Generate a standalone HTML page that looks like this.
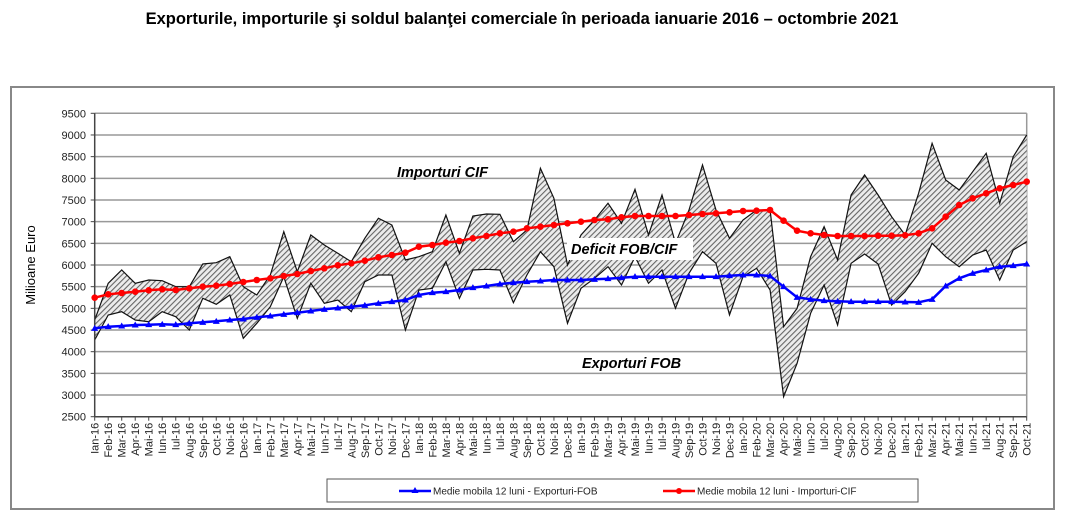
<!DOCTYPE html>
<html><head><meta charset="utf-8"><style>
body{margin:0;background:#fff;width:1068px;height:521px;overflow:hidden;font-family:"Liberation Sans",Arial,sans-serif}
</style></head><body>
<svg id="s" width="1068" height="521" xmlns="http://www.w3.org/2000/svg" font-family="Liberation Sans, Arial, sans-serif">
<defs>
<pattern id="h" patternUnits="userSpaceOnUse" width="4" height="4" patternTransform="rotate(45)">
<rect width="4" height="4" fill="#ececec"/><rect width="1.1" height="4" fill="#666"/>
</pattern>
</defs>
<text x="522" y="24" text-anchor="middle" font-weight="bold" font-size="16.5">Exporturile, importurile şi soldul balanţei comerciale în perioada ianuarie 2016 – octombrie 2021</text>
<rect x="11" y="87" width="1043" height="422" fill="#fff" stroke="#888" stroke-width="2"/>
<g id="g"></g>
</svg>
<script>
var g=document.getElementById('g');var ns='http://www.w3.org/2000/svg';
function el(t,a,txt){var e=document.createElementNS(ns,t);for(var k in a)e.setAttribute(k,a[k]);if(txt)e.textContent=txt;g.appendChild(e);return e;}
var L=94.7,R=1026.7,T=113.3,B=416.7,st=(R-L)/69;
function X(i){return L+i*st}
function Y(zy){return 110+zy/3}
function V(v){return B-(v-2500)*(B-T)/7000}
for(var v=2500;v<=9500;v+=500){var y=V(v);el('line',{x1:L,x2:R,y1:y,y2:y,stroke:'#999','stroke-width':1.5});
el('line',{x1:L-4,x2:L,y1:y,y2:y,stroke:'#444'});
el('text',{x:86,y:y+4,'text-anchor':'end','font-size':11,fill:'#222'},v);}
el('line',{x1:R,x2:R,y1:T,y2:B,stroke:'#999','stroke-width':1.5});
var imp=[630,520,480,520,510,512,530,530,462,458,440,530,555,495,365,485,375,405,430,455,385,325,345,450,
440,425,315,430,318,312,313,395,360,175,265,465,375,330,280,340,238,375,255,400,300,165,
300,385,330,300,300,650,595,440,350,450,255,195,255,320,375,250,100,210,240,185,130,280,140,75];
var exp=[690,615,605,630,635,605,620,660,565,583,555,685,640,590,500,625,520,580,570,605,515,495,495,660,
540,535,455,565,480,478,480,578,495,425,470,640,535,505,470,525,440,520,480,595,490,425,
460,615,500,475,540,860,760,610,525,645,460,432,462,585,545,490,400,440,470,435,420,510,420,395];
var red=[563,553,549,545,541,538,540,535,530,527,522,516,510,505,498,492,483,475,466,460,452,442,435,428,
410,405,398,393,385,378,370,365,355,350,345,340,335,330,328,322,318,318,318,318,315,312,
310,307,303,302,300,332,362,370,375,378,378,378,377,377,376,370,355,320,285,265,250,235,225,215];
var blu=[655,650,648,645,644,643,644,640,637,634,630,627,622,618,613,608,603,598,594,590,586,580,575,570,
555,548,545,540,533,528,522,518,515,513,510,510,510,508,506,503,500,500,500,500,500,500,
500,497,495,495,498,530,562,568,572,574,575,575,575,575,576,577,568,528,505,490,480,470,467,462];
var pi=[],pe=[];for(var i=0;i<70;i++){pi.push(X(i).toFixed(1)+','+Y(imp[i]).toFixed(1));pe.push(X(i).toFixed(1)+','+Y(exp[i]).toFixed(1));}
el('polygon',{points:pi.concat(pe.slice().reverse()).join(' '),fill:'url(#h)',stroke:'none'});
el('polyline',{points:pi.join(' '),fill:'none',stroke:'#111','stroke-width':1.2});
el('polyline',{points:pe.join(' '),fill:'none',stroke:'#111','stroke-width':1.2});
el('line',{x1:L,x2:L,y1:T,y2:B,stroke:'#444','stroke-width':1.5});
el('line',{x1:L,x2:R,y1:B,y2:B,stroke:'#444','stroke-width':1.5});
var mn=['Ian','Feb','Mar','Apr','Mai','Iun','Iul','Aug','Sep','Oct','Noi','Dec'];
for(var i=0;i<70;i++){var x=X(i);el('line',{x1:x,x2:x,y1:B,y2:B+4,stroke:'#444'});
var lab=mn[i%12]+'-'+(16+Math.floor(i/12));
el('text',{x:0,y:0,transform:'translate('+(x+4)+','+(B+6)+') rotate(-90)','text-anchor':'end','font-size':11,fill:'#222'},lab);}
var pr=[],pb=[];for(var i=0;i<70;i++){pr.push(X(i).toFixed(1)+','+Y(red[i]).toFixed(1));pb.push(X(i).toFixed(1)+','+Y(blu[i]).toFixed(1));}
el('polyline',{points:pr.join(' '),fill:'none',stroke:'#f00','stroke-width':2.5});
el('polyline',{points:pb.join(' '),fill:'none',stroke:'#00f','stroke-width':2.5});
for(var i=0;i<70;i++){el('circle',{cx:X(i),cy:Y(red[i]),r:3.3,fill:'#f00'});
var x=X(i),y=Y(blu[i]);el('polygon',{points:(x-3.5)+','+(y+2.5)+' '+(x+3.5)+','+(y+2.5)+' '+x+','+(y-3.5),fill:'#00f'});}
el('text',{x:397,y:177,'font-size':14.5,'font-weight':'bold','font-style':'italic'},'Importuri CIF');
el('rect',{x:567,y:238,width:126,height:22,fill:'#fff'});
el('text',{x:571,y:254,'font-size':14.5,'font-weight':'bold','font-style':'italic'},'Deficit FOB/CIF');
el('text',{x:582,y:368,'font-size':14.5,'font-weight':'bold','font-style':'italic'},'Exporturi FOB');
el('text',{x:0,y:0,transform:'translate(35,265) rotate(-90)','text-anchor':'middle','font-size':13},'Milioane Euro');
el('rect',{x:327,y:479,width:591,height:23,fill:'#fff',stroke:'#555','stroke-width':1});
el('line',{x1:399,x2:431,y1:491,y2:491,stroke:'#00f','stroke-width':2.5});
el('polygon',{points:'411.5,493 418.5,493 415,487',fill:'#00f'});
el('text',{x:433,y:494.5,'font-size':10,fill:'#222'},'Medie mobila 12 luni - Exporturi-FOB');
el('line',{x1:663,x2:695,y1:491,y2:491,stroke:'#f00','stroke-width':2.5});
el('circle',{cx:679,cy:491,r:3,fill:'#f00'});
el('text',{x:697,y:494.5,'font-size':10,fill:'#222'},'Medie mobila 12 luni - Importuri-CIF');
</script>
</body></html>
